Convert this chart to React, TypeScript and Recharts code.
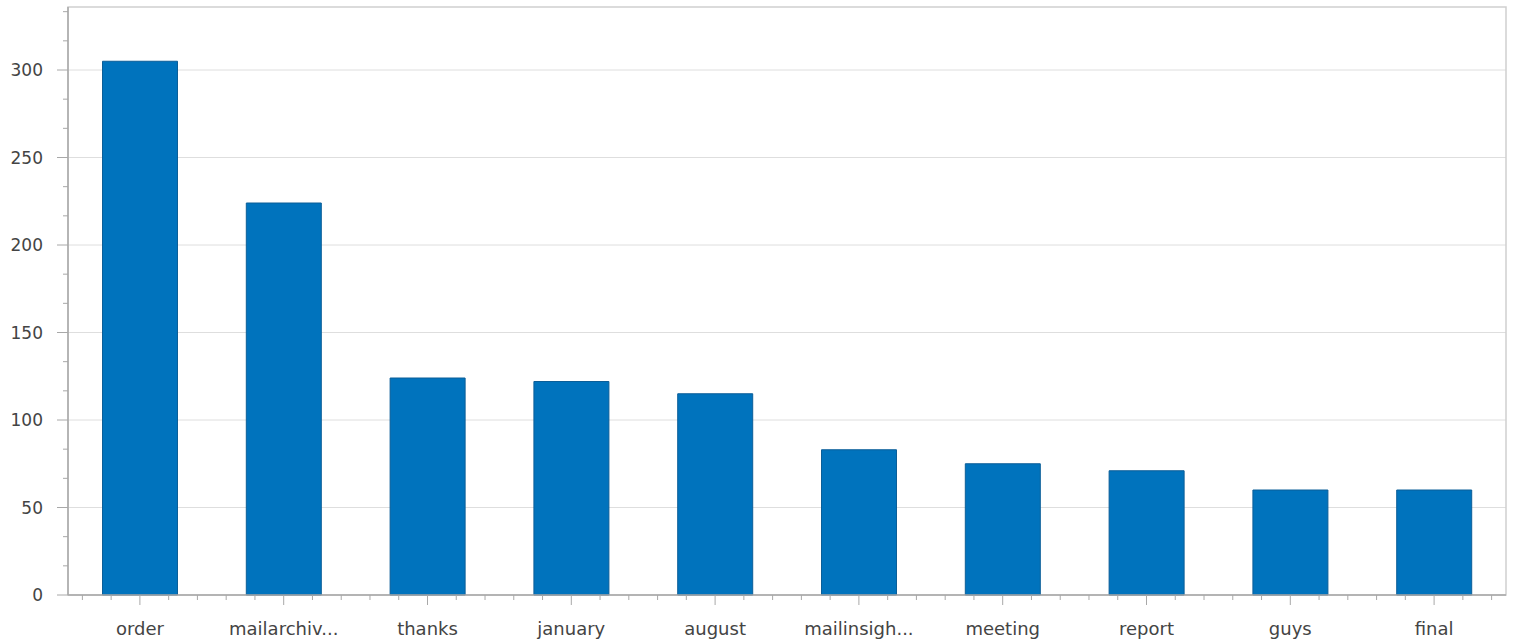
import React from "react";
import { BarChart, Bar, XAxis, YAxis, CartesianGrid, ReferenceArea } from "recharts";

const categories = ["order", "mailarchiv...", "thanks", "january", "august", "mailinsigh...", "meeting", "report", "guys", "final"];
const counts = [305, 224, 124, 122, 115, 83, 75, 71, 60, 60];
const majorTicks = [0, 50, 100, 150, 200, 250, 300];
const yTicks = [0, 50 / 3, 100 / 3, 50, 200 / 3, 250 / 3, 100, 350 / 3, 400 / 3, 150, 500 / 3, 550 / 3, 200, 650 / 3, 700 / 3, 250, 800 / 3, 850 / 3, 300, 950 / 3, 1000 / 3];
const yMax = 336;

const data = categories.map((name, i) => ({ name, value: counts[i] }));

const TEXT = "#444444";
const AXIS = "#a8a8a8";
const FONT = "DejaVu Sans";

const YTick = (props: any) => {
  const { x, y, payload } = props;
  const v = payload.value;
  const isMajor = majorTicks.some((m) => Math.abs(m - v) < 1e-6);
  return (
    <g>
      <line x1={x} x2={x - (isMajor ? 11 : 5)} y1={y} y2={y} stroke={AXIS} strokeWidth={1} />
      {isMajor && (
        <text x={x - 25} y={y} dy="0.36em" textAnchor="end" fill={TEXT} fontSize={17} fontFamily={FONT}>
          {Math.round(v)}
        </text>
      )}
    </g>
  );
};

const XTick = (props: any) => {
  const { x, y, payload, width } = props;
  const band = (width || 1438) / categories.length;
  const offsets = [-0.4, -0.2, 0.2, 0.4];
  return (
    <g>
      <line x1={x} x2={x} y1={y} y2={y + 10} stroke={AXIS} strokeWidth={1} />
      {offsets.map((o) => (
        <line key={o} x1={x + o * band} x2={x + o * band} y1={y} y2={y + 5} stroke={AXIS} strokeWidth={1} />
      ))}
      <text x={x} y={y + 40} textAnchor="middle" fill={TEXT} fontSize={18} fontFamily={FONT}>
        {payload.value}
      </text>
    </g>
  );
};

export default function App() {
  return (
    <div style={{ position: "absolute", left: 0, top: 0, width: 1514, height: 643, background: "#fff" }}>
      <BarChart
        width={1514}
        height={643}
        data={data}
        margin={{ top: 7, right: 8, bottom: 0, left: 0 }}
        barCategoryGap="24%"
      >
        <CartesianGrid vertical={false} horizontalValues={majorTicks} stroke="#dedede" strokeWidth={1} />
        <ReferenceArea
          x1={categories[0]}
          x2={categories[categories.length - 1]}
          y1={0}
          y2={yMax}
          fill="none"
          fillOpacity={0}
          stroke="#d0d0d0"
          strokeWidth={1.5}
          ifOverflow="visible"
        />
        <XAxis
          dataKey="name"
          height={48}
          tickSize={0}
          tickMargin={0}
          tickLine={false}
          axisLine={{ stroke: AXIS, strokeWidth: 1.5 }}
          interval={0}
          tick={<XTick />}
        />
        <YAxis
          width={68}
          domain={[0, yMax]}
          ticks={yTicks}
          interval={0}
          tickSize={0}
          tickMargin={0}
          tickLine={false}
          axisLine={{ stroke: AXIS, strokeWidth: 1.5 }}
          tick={<YTick />}
        />
        <Bar dataKey="value" fill="#0073bd" stroke="#0b5e98" strokeWidth={1} isAnimationActive={false} />
      </BarChart>
    </div>
  );
}
